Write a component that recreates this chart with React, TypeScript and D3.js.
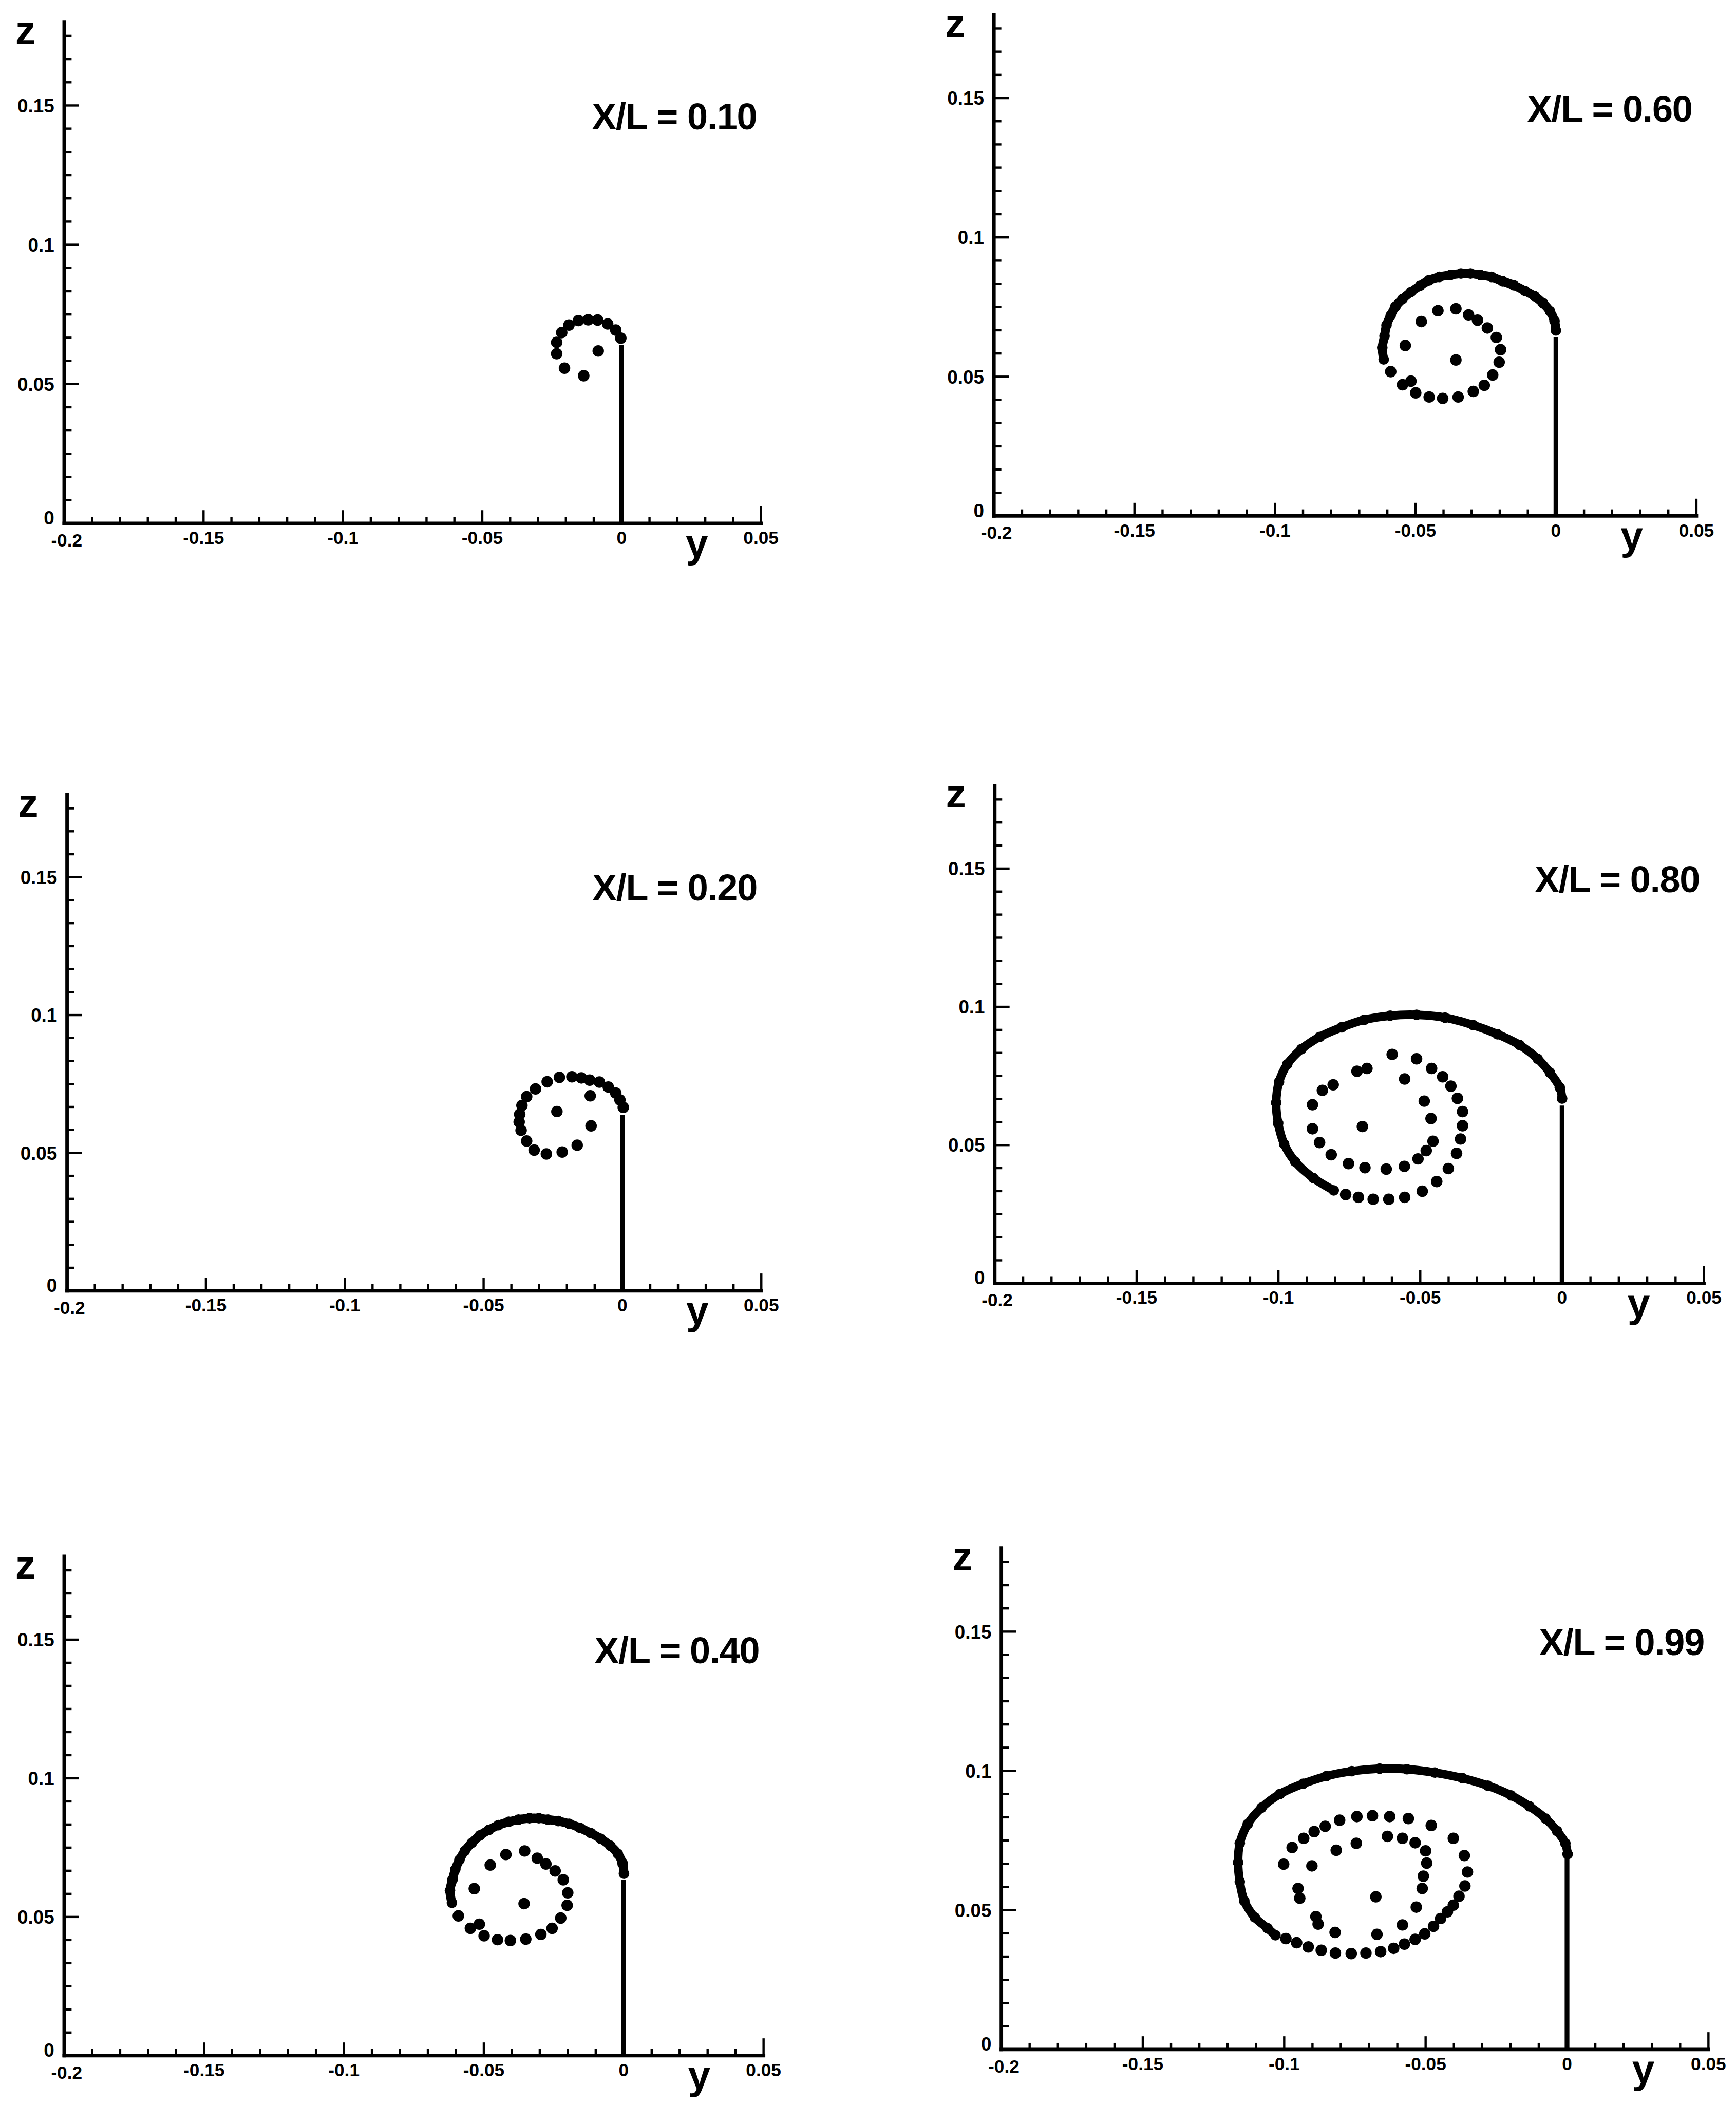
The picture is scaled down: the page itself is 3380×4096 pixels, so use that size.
import React from "react";
import * as d3 from "d3";

// Cross-flow vortex sheet shapes at six stations along the body (X/L).
// Coordinates are spanwise y and vertical z; every panel shares the same axes.

const S = 0.801; // drawing scale applied to layout figures given in base units
const W = 3380;
const H = 4096;

const yTickValues = [-0.2, -0.15, -0.1, -0.05, 0, 0.05];
const yTickLabels = ["-0.2", "-0.15", "-0.1", "-0.05", "0", "0.05"];
const zTickValues = [0, 0.05, 0.1, 0.15];
const zTickLabels = ["0", "0.05", "0.1", "0.15"];
const Y_MIN = -0.2;
const Y_MAX = 0.05;
const Z_MAX = 0.18;

const stations = ["0.10", "0.60", "0.20", "0.80", "0.40", "0.99"];

// height of the feeding sheet segment along y = 0
const wallTop = [0.0641, 0.0641, 0.0637, 0.0643, 0.0634, 0.0686];

// ---- X/L = 0.10 ----
const sheet010: [number, number][] = [];
const core010: [number, number][] = [
  [-0.0003, 0.0665], [-0.0021, 0.0694], [-0.005, 0.0716], [-0.0086, 0.073],
  [-0.012, 0.0731], [-0.0155, 0.0728], [-0.0189, 0.0712], [-0.0215, 0.0685],
  [-0.0233, 0.065], [-0.0233, 0.0609], [-0.0205, 0.0557], [-0.0136, 0.053],
  [-0.0084, 0.0619],
];

// ---- X/L = 0.20 ----
const sheet020: [number, number][] = [];
const core020: [number, number][] = [
  [0.0003, 0.0665], [-0.0009, 0.0692], [-0.0024, 0.0717], [-0.0051, 0.0739],
  [-0.0083, 0.0757], [-0.0118, 0.0764], [-0.0148, 0.0772], [-0.0182, 0.0776],
  [-0.0227, 0.0774], [-0.0271, 0.0758], [-0.0313, 0.0732], [-0.0345, 0.0704],
  [-0.0362, 0.0672], [-0.037, 0.064], [-0.0372, 0.0612], [-0.0365, 0.0582],
  [-0.0345, 0.0543], [-0.0318, 0.051], [-0.0274, 0.0496], [-0.0217, 0.0503],
  [-0.0163, 0.0528], [-0.0113, 0.0598], [-0.0116, 0.0707], [-0.0236, 0.065],
];

// ---- X/L = 0.40 ----
const sheet040: [number, number][] = [
  [0.0001, 0.0656], [-0.0004, 0.0693], [-0.0021, 0.0728], [-0.0048, 0.0757],
  [-0.0082, 0.0782], [-0.0117, 0.0802], [-0.0156, 0.0821], [-0.0195, 0.0836],
  [-0.0234, 0.0846], [-0.0271, 0.0851], [-0.0303, 0.0856], [-0.0337, 0.0856],
  [-0.0376, 0.0851], [-0.0411, 0.0843], [-0.0448, 0.0831], [-0.0482, 0.0814],
  [-0.0514, 0.0794], [-0.0543, 0.0767], [-0.0568, 0.0738], [-0.0587, 0.0706],
  [-0.0602, 0.0671], [-0.0612, 0.0634], [-0.0621, 0.0595], [-0.0614, 0.0551],
];
const core040: [number, number][] = [
  [-0.0591, 0.0504], [-0.0548, 0.0459], [-0.0516, 0.0474], [-0.0499, 0.0432],
  [-0.0451, 0.0418], [-0.0405, 0.0415], [-0.035, 0.042], [-0.0296, 0.0437],
  [-0.0256, 0.0459], [-0.0225, 0.0496], [-0.0202, 0.0542], [-0.02, 0.0587],
  [-0.0216, 0.0634], [-0.0245, 0.0666], [-0.0278, 0.0691], [-0.0309, 0.0712],
  [-0.0354, 0.0738], [-0.0421, 0.0725], [-0.0477, 0.0687], [-0.0534, 0.0602],
  [-0.0356, 0.0548],
];

// ---- X/L = 0.60 ----
const sheet060: [number, number][] = [
  [0.0, 0.0666], [-0.0005, 0.07], [-0.0021, 0.0735], [-0.0046, 0.0764],
  [-0.0076, 0.0789], [-0.011, 0.0808], [-0.015, 0.0828], [-0.019, 0.0843],
  [-0.0229, 0.0858], [-0.0269, 0.0865], [-0.0304, 0.087], [-0.0338, 0.087],
  [-0.0375, 0.0865], [-0.0415, 0.0858], [-0.0452, 0.0846], [-0.0484, 0.0826],
  [-0.0516, 0.0804], [-0.0546, 0.0779], [-0.0571, 0.0752], [-0.0588, 0.072],
  [-0.0603, 0.0685], [-0.061, 0.0646], [-0.0618, 0.0604], [-0.0613, 0.0562],
];
const core060: [number, number][] = [
  [-0.0588, 0.0518], [-0.0546, 0.0471], [-0.0516, 0.0484], [-0.0499, 0.0442],
  [-0.0451, 0.0427], [-0.0403, 0.0422], [-0.0348, 0.0427], [-0.0294, 0.0447],
  [-0.0255, 0.0469], [-0.0225, 0.0506], [-0.0202, 0.0552], [-0.0197, 0.0597],
  [-0.0212, 0.0641], [-0.0244, 0.0675], [-0.0279, 0.0703], [-0.0311, 0.0722],
  [-0.0356, 0.0744], [-0.042, 0.0737], [-0.0479, 0.0698], [-0.0536, 0.0612],
  [-0.0356, 0.056],
];

// ---- X/L = 0.80 ----
const sheet080: [number, number][] = [
  [0.0, 0.0668], [-0.0008, 0.0708], [-0.0043, 0.0762], [-0.0086, 0.0812],
  [-0.015, 0.0862], [-0.0228, 0.0901], [-0.0314, 0.0934], [-0.0413, 0.0961],
  [-0.0513, 0.0971], [-0.0606, 0.0968], [-0.0698, 0.0953], [-0.0777, 0.0926],
  [-0.0855, 0.0891], [-0.0919, 0.0847], [-0.0969, 0.0792], [-0.0998, 0.0728],
  [-0.1008, 0.0653], [-0.1001, 0.0579], [-0.098, 0.0504], [-0.0941, 0.044],
  [-0.0877, 0.0381], [-0.0805, 0.0336],
];
const core080: [number, number][] = [
  [-0.0763, 0.0321], [-0.0718, 0.0311], [-0.0666, 0.0304], [-0.0611, 0.0304],
  [-0.0555, 0.0311], [-0.0493, 0.0333], [-0.0442, 0.0368], [-0.0401, 0.0415],
  [-0.0372, 0.047], [-0.0358, 0.0522], [-0.0351, 0.057], [-0.0351, 0.0621],
  [-0.0369, 0.0669], [-0.0392, 0.0713], [-0.0421, 0.0747], [-0.046, 0.0777],
  [-0.0513, 0.0812], [-0.0599, 0.0828], [-0.0688, 0.0777], [-0.0723, 0.0767],
  [-0.0807, 0.0718], [-0.0845, 0.0698], [-0.088, 0.0646], [-0.088, 0.0559],
  [-0.0855, 0.0509], [-0.0814, 0.0465], [-0.0753, 0.0433], [-0.0695, 0.0418],
  [-0.062, 0.0413], [-0.0556, 0.0423], [-0.0508, 0.045], [-0.0479, 0.048],
  [-0.0455, 0.0514], [-0.0462, 0.0596], [-0.0486, 0.0659], [-0.0555, 0.0739],
  [-0.0704, 0.0567],
];

// ---- X/L = 0.99 ----
const sheet099: [number, number][] = [
  [0.0002, 0.0701], [-0.0006, 0.074], [-0.0035, 0.0784], [-0.0076, 0.0829],
  [-0.0133, 0.0873], [-0.0198, 0.0912], [-0.028, 0.0947], [-0.037, 0.0974],
  [-0.0468, 0.0994], [-0.0566, 0.1006], [-0.0663, 0.1008], [-0.0761, 0.0999],
  [-0.0851, 0.0981], [-0.0933, 0.0954], [-0.1015, 0.0917], [-0.108, 0.0868],
  [-0.1129, 0.0809], [-0.1157, 0.074], [-0.1163, 0.0671], [-0.1157, 0.0602],
  [-0.1141, 0.0533], [-0.1104, 0.0474], [-0.1059, 0.0435], [-0.1031, 0.041],
];
const core099: [number, number][] = [
  [-0.0994, 0.0398], [-0.0956, 0.0383], [-0.0915, 0.0368], [-0.0869, 0.0356],
  [-0.0819, 0.0346], [-0.0763, 0.0344], [-0.0711, 0.0346], [-0.0659, 0.0351],
  [-0.0613, 0.0363], [-0.0575, 0.0378], [-0.0537, 0.0395], [-0.0503, 0.0415],
  [-0.0472, 0.0442], [-0.0447, 0.047], [-0.0423, 0.0494], [-0.0402, 0.0518],
  [-0.0382, 0.055], [-0.0361, 0.0587], [-0.0352, 0.0637], [-0.0363, 0.0696],
  [-0.0402, 0.0758], [-0.048, 0.0804], [-0.0561, 0.0829], [-0.0627, 0.0836],
  [-0.0688, 0.0839], [-0.0743, 0.0836], [-0.0804, 0.0823], [-0.0855, 0.0801],
  [-0.0894, 0.0782], [-0.0931, 0.0758], [-0.0972, 0.0725], [-0.1002, 0.0665],
  [-0.0951, 0.0578], [-0.0945, 0.0543], [-0.0888, 0.0477], [-0.088, 0.045],
  [-0.082, 0.042], [-0.0672, 0.0413], [-0.0582, 0.0447], [-0.0533, 0.0511],
  [-0.0512, 0.0578], [-0.0508, 0.0622], [-0.0496, 0.0669], [-0.05, 0.0713],
  [-0.0537, 0.0742], [-0.0582, 0.0758], [-0.0635, 0.0765], [-0.0745, 0.074],
  [-0.0816, 0.0715], [-0.0902, 0.0659], [-0.0676, 0.0548],
];

const sheets = [sheet010, sheet060, sheet020, sheet080, sheet040, sheet099];
const cores = [core010, core060, core020, core080, core040, core099];

// Panel frames in base units: x of y=-0.2, x of y=0, baseline of z=0, px per unit z,
// and the drawn width of the rolled-up sheet band.
const frames = [
  { left: 156, zero: 1511, base: 1272, kz: 6770, band: 22 },
  { left: 2416, zero: 3782, base: 1254, kz: 6770, band: 22 },
  { left: 163, zero: 1513, base: 3137, kz: 6700, band: 22 },
  { left: 2418, zero: 3797, base: 3119, kz: 6720, band: 21 },
  { left: 156, zero: 1516, base: 4996, kz: 6740, band: 22 },
  { left: 2434, zero: 3809, base: 4981, kz: 6770, band: 21 },
];

const FONT = "'Liberation Sans', Arial, Helvetica, sans-serif";
const DOT_R = 14 * S;

function Panel({ idx }: { idx: number }) {
  const f = frames[idx];
  const x = d3.scaleLinear().domain([Y_MIN, 0]).range([f.left * S, f.zero * S]);
  const z = d3.scaleLinear().domain([0, 0.15]).range([f.base * S, (f.base - 0.15 * f.kz) * S]);

  const axisW = 8.5 * S;
  const tickW = 5.5 * S;
  const yMinor = d3.range(0, 26).map((i) => ({ v: Y_MIN + i * 0.01, major: i % 5 === 0, last: i === 25 }));
  const zMinor = d3.range(0, 22).map((i) => ({ v: (i * 0.05) / 6, major: i % 6 === 0 }));

  const sheet = sheets[idx];
  const core = cores[idx];
  const line = d3
    .line<[number, number]>()
    .x((d) => x(d[0]))
    .y((d) => z(d[1]))
    .curve(d3.curveCatmullRom.alpha(0.5));

  const x0 = x(Y_MIN);
  const z0 = z(0);

  return (
    <g>
      {/* axes */}
      <line x1={x0} x2={x(Y_MAX)} y1={z0} y2={z0} stroke="#000" strokeWidth={axisW} strokeLinecap="square" />
      <line x1={x0} x2={x0} y1={z0} y2={z(Z_MAX)} stroke="#000" strokeWidth={axisW} strokeLinecap="square" />
      {yMinor.map((t, i) => {
        const len = (t.last ? 42 : t.major ? 32 : 16) * S;
        return (
          <line key={"yt" + i} x1={x(t.v)} x2={x(t.v)} y1={z0} y2={z0 - len} stroke="#000" strokeWidth={tickW} />
        );
      })}
      {zMinor.map((t, i) => {
        const len = (t.major ? 36 : 18) * S;
        return (
          <line key={"zt" + i} x1={x0} x2={x0 + len} y1={z(t.v)} y2={z(t.v)} stroke="#000" strokeWidth={tickW} />
        );
      })}
      {yTickValues.map((v, i) => (
        <text
          key={"yl" + i}
          x={x(v) + (i === 0 ? 6 * S : 0)}
          y={z0 + (i === 0 ? 56 : 50) * S}
          textAnchor="middle"
          fontFamily={FONT}
          fontWeight="bold"
          fontSize={44 * S}
        >
          {yTickLabels[i]}
        </text>
      ))}
      {zTickValues.map((v, i) => (
        <text
          key={"zl" + i}
          x={x0 - 24 * S}
          y={z(v) - (i === 0 ? 14 * S : 0)}
          dy="0.36em"
          textAnchor="end"
          fontFamily={FONT}
          fontWeight="bold"
          fontSize={46 * S}
        >
          {zTickLabels[i]}
        </text>
      ))}
      <text x={x(0.027)} y={z0 + 82 * S} textAnchor="middle" fontFamily={FONT} fontWeight="bold" fontSize={98 * S}>
        y
      </text>
      <text x={x0 - 70 * S} y={z(0.172)} textAnchor="end" fontFamily={FONT} fontWeight="bold" fontSize={98 * S}>
        z
      </text>
      <text
        x={x(0.0485)}
        y={z(0.1415)}
        textAnchor="end"
        fontFamily={FONT}
        fontWeight="bold"
        fontSize={90 * S}
        letterSpacing={-1.5 * S}
      >
        {"X/L = " + stations[idx]}
      </text>

      {/* feeding sheet along the symmetry plane */}
      <line x1={x(0)} x2={x(0)} y1={z0} y2={z(wallTop[idx])} stroke="#000" strokeWidth={11.5 * S} />

      {/* rolled-up shear layer */}
      {sheet.length > 1 && (
        <path
          d={line(sheet) || ""}
          fill="none"
          stroke="#000"
          strokeWidth={f.band * S}
          strokeLinecap="round"
          strokeLinejoin="round"
        />
      )}
      {sheet.map((d, i) => (
        <circle key={"s" + i} cx={x(d[0])} cy={z(d[1])} r={DOT_R * 0.92} fill="#000" />
      ))}
      {core.map((d, i) => (
        <circle key={"c" + i} cx={x(d[0])} cy={z(d[1])} r={DOT_R} fill="#000" />
      ))}
    </g>
  );
}

export default function App() {
  return (
    <svg
      width={W}
      height={H}
      viewBox={`0 0 ${W} ${H}`}
      style={{ position: "absolute", left: 0, top: 0, background: "#fff", display: "block" }}
    >
      <rect x={0} y={0} width={W} height={H} fill="#fff" />
      {stations.map((_, i) => (
        <Panel key={i} idx={i} />
      ))}
    </svg>
  );
}
